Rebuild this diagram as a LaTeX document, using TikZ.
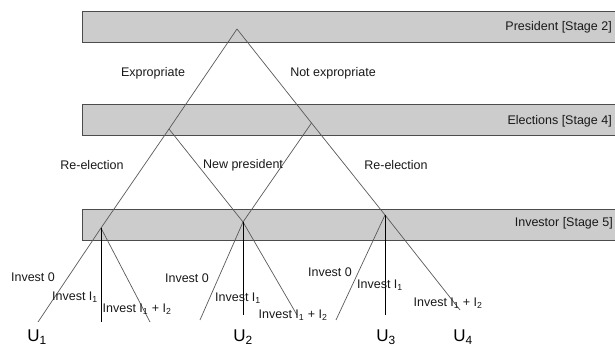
\documentclass[tikz,border=0pt]{standalone}
\usepackage{fontspec}
\setmainfont{Liberation Sans}
\begin{document}
\begin{tikzpicture}[x=1pt, y=-1pt,
  stage/.style={draw=black!70, fill=black!20, line width=0.8pt, minimum width=540pt,
                minimum height=31pt, anchor=north west, inner sep=0pt},
  stagelabel/.style={anchor=east, font=\fontsize{12.5}{15}\selectfont, text=black!90, inner sep=0pt},
  branch/.style={draw=black!65, line width=0.7pt},
  invest/.style={draw=black, line width=0.7pt},
  lbl/.style={font=\fontsize{12.5}{15}\selectfont, text=black!90, inner sep=0pt},
  payoff/.style={font=\fontsize{17}{19}\selectfont, inner sep=0pt},
]
\useasboundingbox (0,0) rectangle (615,347);

% Stage bands
\node[stage] (presband) at (82,11) {};
\node[stage] (elecband) at (82,104) {};
\node[stage] (invband) at (82,209) {};

\node[stagelabel] at (612,27) {President [Stage 2]};
\node[stagelabel] at (612,121) {Elections [Stage 4]};
\node[stagelabel] at (613,223) {Investor [Stage 5]};

% === Decision nodes ===
\coordinate (root) at (237,29);
\coordinate (elecL) at (169,129);
\coordinate (elecR) at (311.5,123);
\coordinate (invA) at (101,228);
\coordinate (invB) at (243,222);
\coordinate (invC) at (385,215);

% Leaf ends
\coordinate (endA0) at (38,322);
\coordinate (endA1) at (101,322);
\coordinate (endA2) at (150,322);
\coordinate (endB0) at (200,320);
\coordinate (endB1) at (243,315);
\coordinate (endB2) at (297,315);
\coordinate (endC0) at (336,320);
\coordinate (endC1) at (385,315);
\coordinate (endC2) at (460,310);

% === Branches ===
\draw[branch] (root) -- (elecL) -- (invA) -- (endA0);
\draw[branch] (root) -- (elecR) -- (invC) -- (endC2);
\draw[branch] (elecL) -- (invB);
\draw[branch] (elecR) -- (invB);
\draw[branch] (invA) -- (endA2);
\draw[branch] (invB) -- (endB0);
\draw[branch] (invB) -- (endB2);
\draw[branch] (invC) -- (endC0);

\draw[invest] (invA) -- (endA1);
\draw[invest] (invB) -- (endB1);
\draw[invest] (invC) -- (endC1);

% === Labels ===
\node[lbl] at (153,73) {Expropriate};
\node[lbl] at (333,73) {Not expropriate};
\node[lbl] at (92,165) {Re-election};
\node[lbl] at (243,165) {New president};
\node[lbl] at (396,165) {Re-election};

\node[lbl] at (33,277) {Invest 0};
\node[lbl] at (75,297) {Invest I\textsubscript{1}};
\node[lbl] at (137,309) {Invest I\textsubscript{1} + I\textsubscript{2}};
\node[lbl] at (187,278) {Invest 0};
\node[lbl] at (238,298) {Invest I\textsubscript{1}};
\node[lbl] at (293,315) {Invest I\textsubscript{1} + I\textsubscript{2}};
\node[lbl] at (330,272) {Invest 0};
\node[lbl] at (380,285) {Invest I\textsubscript{1}};
\node[lbl] at (448,303) {Invest I\textsubscript{1} + I\textsubscript{2}};

% Payoffs
\node[payoff] (u1) at (37,337) {U\textsubscript{1}};
\node[payoff] (u2) at (243,337) {U\textsubscript{2}};
\node[payoff] (u3) at (386,337) {U\textsubscript{3}};
\node[payoff] (u4) at (463,337) {U\textsubscript{4}};

\end{tikzpicture}
\end{document}
